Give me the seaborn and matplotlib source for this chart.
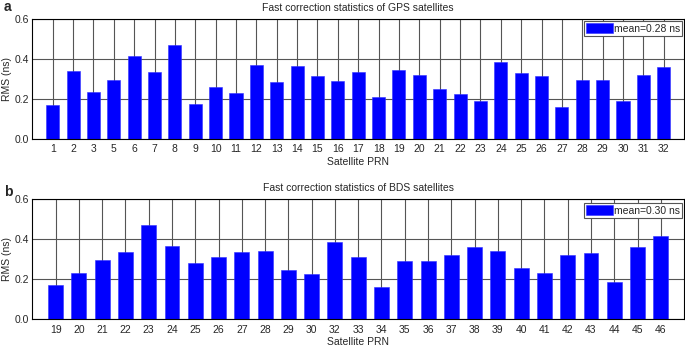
import matplotlib
matplotlib.use("Agg")
import matplotlib.pyplot as plt
import seaborn as sns

# GPS satellites (PRN 4 missing)
gps_prn = ["1", "2", "3", "5", "6", "7", "8", "9", "10", "11", "12", "13", "14", "15", "16",
           "17", "18", "19", "20", "21", "22", "23", "24", "25", "26", "27", "28", "29", "30",
           "31", "32"]
gps_rms = [0.170, 0.338, 0.233, 0.295, 0.412, 0.335, 0.470, 0.173, 0.257, 0.230, 0.367,
           0.283, 0.362, 0.312, 0.287, 0.335, 0.210, 0.342, 0.318, 0.247, 0.223, 0.188,
           0.383, 0.328, 0.312, 0.160, 0.292, 0.292, 0.188, 0.318, 0.358]

# BDS satellites (PRN 31 missing)
bds_prn = ["19", "20", "21", "22", "23", "24", "25", "26", "27", "28", "29", "30", "32",
           "33", "34", "35", "36", "37", "38", "39", "40", "41", "42", "43", "44", "45", "46"]
bds_rms = [0.170, 0.231, 0.294, 0.334, 0.467, 0.366, 0.281, 0.311, 0.334, 0.341, 0.246,
           0.223, 0.384, 0.311, 0.160, 0.291, 0.291, 0.317, 0.357, 0.337, 0.254, 0.228,
           0.317, 0.327, 0.184, 0.359, 0.412]

panels = [
    ("a", gps_prn, gps_rms, "Fast correction statistics of GPS satellites", "mean=0.28 ns", 0.978),
    ("b", bds_prn, bds_rms, "Fast correction statistics of BDS satellites", "mean=0.30 ns", 0.962),
]

sns.set_style("white")
plt.rcParams["font.family"] = ["Liberation Sans", "DejaVu Sans"]
plt.rcParams["font.size"] = 7.5

fig = plt.figure(figsize=(6.85, 3.48), dpi=100)
axes_rects = [[0.0472, 0.6014, 0.9515, 0.345], [0.0472, 0.0833, 0.9515, 0.3457]]
letter_y = [0.968, 0.4368]

for (letter, prn, rms, title, leg_label, leg_y), rect, ly in zip(panels, axes_rects, letter_y):
    ax = fig.add_axes(rect)
    ax.set_axisbelow(True)
    sns.barplot(x=prn, y=rms, color="#0000ff", saturation=1, width=0.64,
                edgecolor="#3030ff", linewidth=0.4, label=leg_label, ax=ax)

    ax.set_xlim(-1, len(prn))
    ax.set_ylim(0, 0.6)
    ax.set_yticks([0.0, 0.2, 0.4, 0.6])
    ax.set_yticklabels(["0.0", "0.2", "0.4", "0.6"])
    ax.grid(True, color="#555555", linewidth=0.8)
    ax.tick_params(length=0, labelsize=7.5)
    ax.tick_params(axis="x", pad=4)
    ax.tick_params(axis="y", pad=2.5)
    for s in ax.spines.values():
        s.set_visible(True)
        s.set_color("black")
        s.set_linewidth(0.8)

    ax.set_xlabel("Satellite PRN", fontsize=7.5, labelpad=2)
    ax.set_ylabel("RMS (ns)", fontsize=7.5, labelpad=2)
    ax.set_title(title, fontsize=7.5, pad=5.3)

    leg = ax.legend(loc="upper right", bbox_to_anchor=(0.9975, leg_y), borderaxespad=0,
                    fontsize=7.5, fancybox=False, framealpha=1, edgecolor="#555555",
                    handlelength=2.6, handleheight=1.05, handletextpad=0.1,
                    borderpad=0.2)
    leg.get_frame().set_linewidth(0.8)

    fig.text(0.006, ly, letter, fontsize=10, fontweight="bold", va="baseline")

fig.savefig("out.png", dpi=100)
